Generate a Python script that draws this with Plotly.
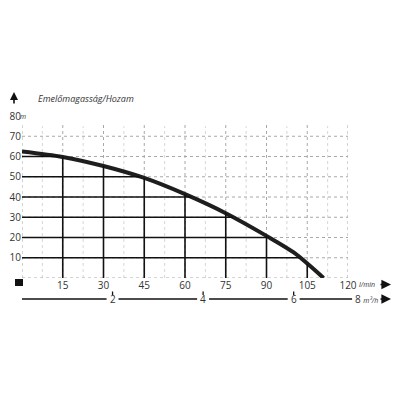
import numpy as np
import plotly.graph_objects as go

# ---- data ----
flow_lmin = [0, 15, 30, 45, 60, 75, 90, 100, 111]
head_m = [62.5, 59.8, 55.3, 49.4, 41.4, 32.0, 20.8, 12.6, 0]
x_ticks = [15, 30, 45, 60, 75, 90, 105, 120]
y_ticks = [10, 20, 30, 40, 50, 60, 70, 80]
drop_x = [15, 30, 45, 60, 75, 90, 105]
drop_y = [10, 20, 30, 40, 50, 60]
m3h_ticks = [2, 4, 6]
m3h_end = 8
title_text = "Emelőmagasság/Hozam"

FONT = "Open Sans"
TXT = "#333333"

# page has an 8px body margin: figure is drawn 8px in from the window edge
OFF = 8
FIG_W = FIG_H = 400 - 2 * OFF
# plot-area geometry in window pixels
PL, PR, PT, PB = 22, 348, 116, 278
W, H = PR - PL, PB - PT


def pxx(p):
    return (p - PL) / W


def pxy(p):
    return (PB - p) / H


fig = go.Figure()

shapes = []
# dotted grid
for i in range(0, 17):
    xv = i * 7.5
    major = (i % 2 == 0)
    shapes.append(dict(type="line", xref="x", yref="y", x0=xv, x1=xv, y0=0,
                       y1=77 if major else 75,
                       line=dict(color="#a8a8a8" if major else "#d6d6d6", width=1, dash="dot"),
                       layer="below"))
for yv in range(0, 80, 10):
    shapes.append(dict(type="line", xref="x", yref="y", x0=0, x1=120, y0=yv, y1=yv,
                       line=dict(color="#a8a8a8", width=1, dash="dot"), layer="below"))

# black drop lines to the curve
fx = np.array(flow_lmin, dtype=float)
fy = np.array(head_m, dtype=float)
for xv in drop_x:
    yc = float(np.interp(xv, fx, fy))
    shapes.append(dict(type="line", xref="x", yref="y", x0=xv, x1=xv, y0=0, y1=yc,
                       line=dict(color="#111111", width=1.6)))
for yv in drop_y:
    xc = float(np.interp(yv, fy[::-1], fx[::-1]))
    shapes.append(dict(type="line", xref="x", yref="y", x0=0, x1=xc, y0=yv, y1=yv,
                       line=dict(color="#111111", width=1.6)))

# black square at origin
shapes.append(dict(type="rect", xref="paper", yref="paper",
                   x0=pxx(15), x1=pxx(23), y0=pxy(286), y1=pxy(279),
                   fillcolor="#111111", line=dict(width=0)))

# second (m3/h) axis with gaps around labels
lmin_per_m3h = 1000 / 60
gap = 2.2
ax2_y = pxy(299)
bounds = [0] + [v * lmin_per_m3h for v in m3h_ticks]
ends = [v * lmin_per_m3h for v in m3h_ticks] + [121.5]
for k, (a, b) in enumerate(zip(bounds, ends)):
    x0 = a + (gap if k > 0 else 0)
    x1 = b - gap if k < len(m3h_ticks) else b
    shapes.append(dict(type="line", xref="paper", yref="paper", x0=x0 / 120, x1=x1 / 120,
                       y0=ax2_y, y1=ax2_y, line=dict(color="#111111", width=1.3)))
for v in m3h_ticks:
    xv = v * lmin_per_m3h / 120
    shapes.append(dict(type="line", xref="paper", yref="paper", x0=xv, x1=xv,
                       y0=pxy(295), y1=pxy(291.5), line=dict(color="#111111", width=1.3)))

fig.add_trace(go.Scatter(x=flow_lmin, y=head_m, mode="lines",
                         line=dict(color="#1e1e1e", width=4, shape="spline", smoothing=0.8),
                         hoverinfo="skip", showlegend=False, cliponaxis=False))

annotations = []
for v in m3h_ticks:
    annotations.append(dict(xref="paper", yref="paper", x=v * lmin_per_m3h / 120, y=ax2_y,
                            text=str(v), showarrow=False, xanchor="center", yanchor="middle",
                            font=dict(family=FONT, size=10, color=TXT)))
annotations.append(dict(xref="paper", yref="paper", x=pxx(353), y=ax2_y,
                        text=f"{m3h_end} <i><span style='font-size:7px'>m³/h</span></i>",
                        showarrow=False, xanchor="left", yanchor="middle",
                        font=dict(family=FONT, size=10, color=TXT)))
annotations.append(dict(xref="paper", yref="paper", x=pxx(357), y=pxy(284.5),
                        text="<i>l/min</i>", showarrow=False, xanchor="left", yanchor="middle",
                        font=dict(family=FONT, size=7, color=TXT)))
annotations.append(dict(xref="paper", yref="paper", x=pxx(18), y=1.0,
                        text="<i>m</i>", showarrow=False, xanchor="left", yanchor="middle",
                        font=dict(family=FONT, size=7, color=TXT)))
annotations.append(dict(xref="paper", yref="paper", x=pxx(36), y=pxy(98),
                        text=f"<i>{title_text}</i>", showarrow=False, xanchor="left",
                        yanchor="middle", font=dict(family=FONT, size=9, color=TXT)))
# arrows
for yy in (284.5, 299):
    annotations.append(dict(xref="paper", yref="paper", x=pxx(391), y=pxy(yy), text="",
                            showarrow=True, axref="pixel", ayref="pixel", ax=-12, ay=0,
                            arrowhead=2, arrowsize=1.2, arrowwidth=1.6, arrowcolor="#111111"))
annotations.append(dict(xref="paper", yref="paper", x=pxx(14), y=pxy(92), text="",
                        showarrow=True, axref="pixel", ayref="pixel", ax=0, ay=13,
                        arrowhead=2, arrowsize=1.0, arrowwidth=1.6, arrowcolor="#111111"))

fig.update_layout(
    width=FIG_W, height=FIG_H,
    margin=dict(l=PL - OFF, r=FIG_W - (PR - OFF), t=PT - OFF, b=FIG_H - (PB - OFF),
                pad=0, autoexpand=False),
    paper_bgcolor="white", plot_bgcolor="white",
    shapes=shapes, annotations=annotations, showlegend=False,
    xaxis=dict(range=[0, 120], tickvals=x_ticks, ticktext=[str(v) for v in x_ticks],
               showgrid=False, zeroline=False, showline=False, ticks="", automargin=False,
               tickfont=dict(family=FONT, size=10, color=TXT), fixedrange=True),
    yaxis=dict(range=[0, 80], tickvals=y_ticks, ticktext=[str(v) for v in y_ticks],
               showgrid=False, zeroline=False, showline=False, ticks="", automargin=False,
               tickfont=dict(family=FONT, size=10, color=TXT), fixedrange=True),
)

fig.write_html("out.html")
